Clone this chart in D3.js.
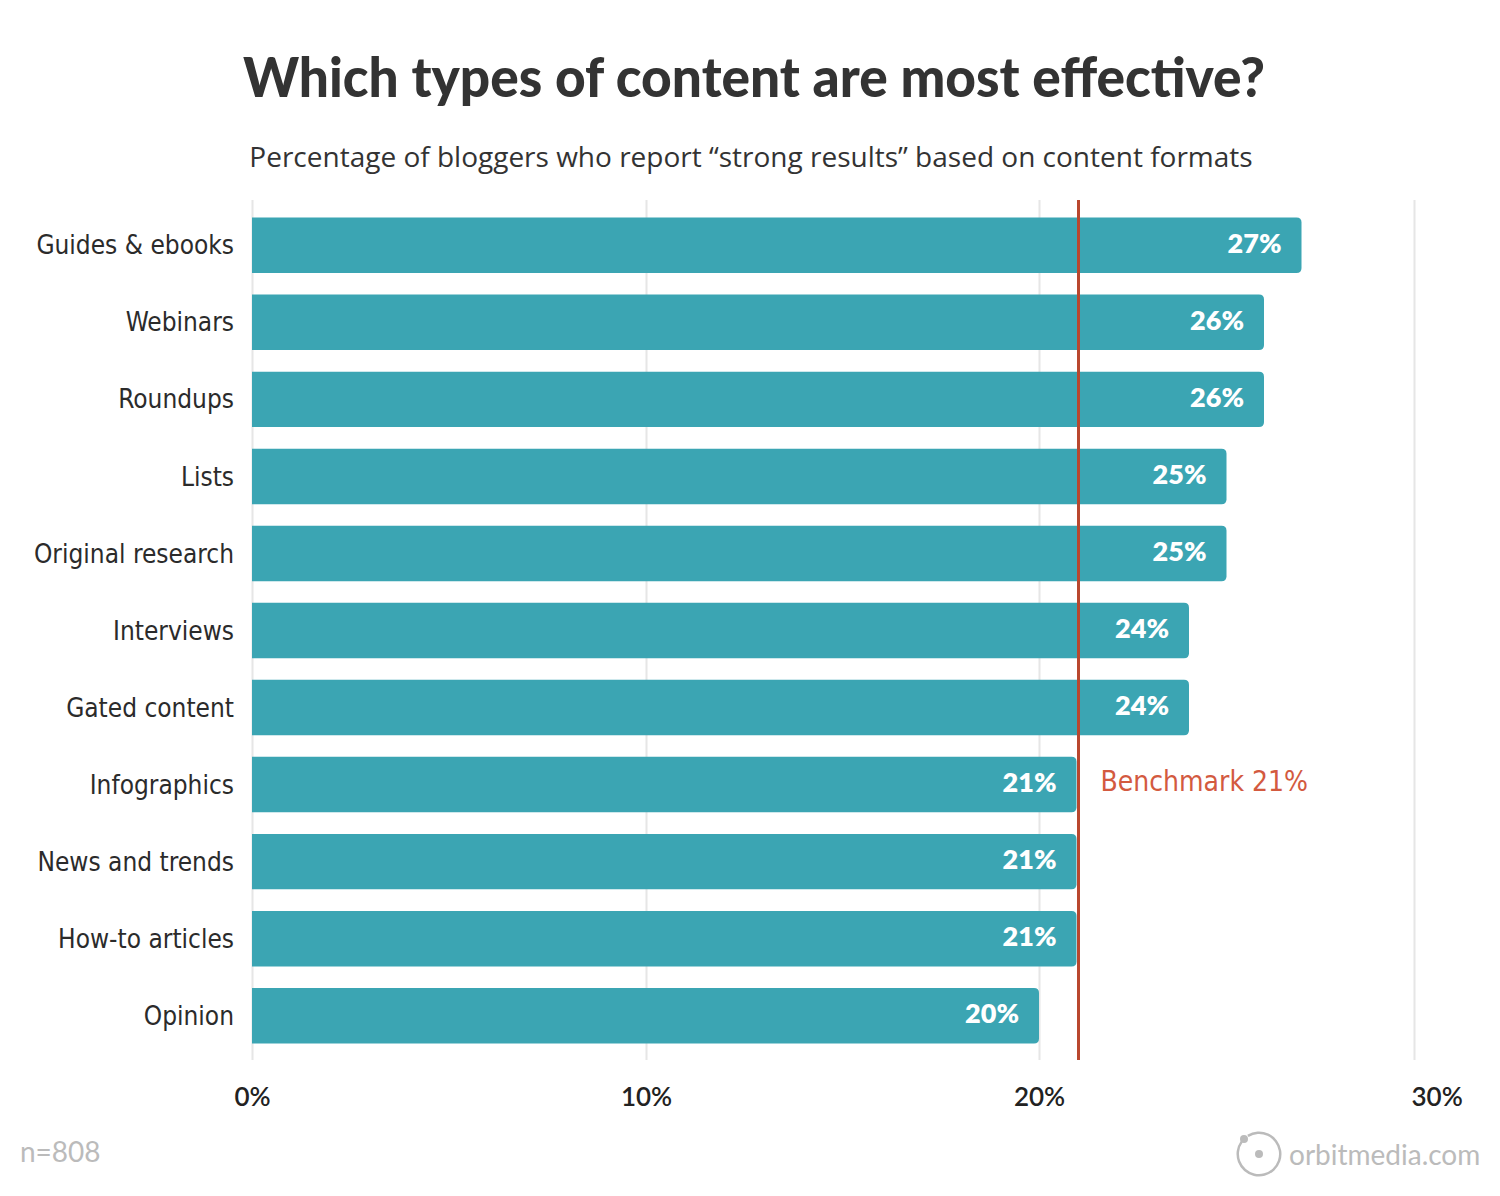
<!DOCTYPE html>
<html>
<head>
<meta charset="utf-8">
<script src="https://cdn.jsdelivr.net/npm/d3@7"></script>
<style>
  body { margin: 0; background: #fff; }
  svg text { font-family: Lato, "Open Sans", sans-serif; }
  .cat { font-family: "Liberation Sans Narrow", "DejaVu Sans Condensed", Roboto, sans-serif; }
</style>
</head>
<body>
<svg id="chart" width="1500" height="1196"></svg>
<script>
const categories = ['Guides & ebooks', 'Webinars', 'Roundups', 'Lists', 'Original research',
  'Interviews', 'Gated content', 'Infographics', 'News and trends', 'How-to articles', 'Opinion'];
const values = [27, 26, 26, 25, 25, 24, 24, 21, 21, 21, 20];
const benchmark = 21;
const xTicks = [0, 10, 20, 30];

const title = 'Which types of content are most effective?';
const subtitle = 'Percentage of bloggers who report \u201cstrong results\u201d based on content formats';

const data = categories.map((c, i) => ({ cat: c, v: values[i] }));

const svg = d3.select('#chart');
const plotTop = 200, plotBottom = 1060;

// the original's gridlines aren't evenly spaced, so a piecewise scale
const xScale = d3.scaleLinear()
  .domain(xTicks)
  .range([252, 646, 1039, 1414]);

const yScale = d3.scaleBand()
  .domain(categories)
  .range([196, 1065])
  .padding(0.28);

svg.append('text')
  .attr('x', 754).attr('y', 97)
  .attr('text-anchor', 'middle')
  .attr('textLength', 1022)
  .attr('lengthAdjust', 'spacingAndGlyphs')
  .style('font-size', '56px')
  .style('font-weight', 900)
  .style('fill', '#333')
  .text(title);

svg.append('text')
  .attr('x', 751).attr('y', 167)
  .attr('text-anchor', 'middle')
  .style('font-family', '"Open Sans", sans-serif')
  .style('font-size', '28px')
  .style('fill', '#333')
  .text(subtitle);

const xAxis = d3.axisBottom(xScale)
  .tickValues(xTicks)
  .tickFormat(d => d + '%')
  .tickSize(-(plotBottom - plotTop))
  .tickPadding(28);

const xAxisG = svg.append('g')
  .attr('transform', `translate(0,${plotBottom})`)
  .call(xAxis);
xAxisG.select('.domain').remove();
xAxisG.selectAll('.tick line')
  .attr('stroke', '#e6e6e6')
  .attr('stroke-width', 2);
xAxisG.selectAll('.tick text')
  .style('font-size', '26px')
  .style('font-family', 'Lato, sans-serif')
  .style('font-weight', 600)
  .style('fill', '#222')
  .attr('text-anchor', (d, i) => i === xTicks.length - 1 ? 'start' : 'middle')
  .attr('dx', (d, i) => i === xTicks.length - 1 ? -3 : 0);

const r = 5;
const barPath = d => {
  const x0 = xScale(0), x1 = xScale(d.v), y0 = yScale(d.cat), h = yScale.bandwidth();
  return `M${x0},${y0}H${x1 - r}Q${x1},${y0} ${x1},${y0 + r}V${y0 + h - r}Q${x1},${y0 + h} ${x1 - r},${y0 + h}H${x0}Z`;
};

svg.append('g').selectAll('path').data(data)
  .enter().append('path')
  .attr('d', barPath)
  .attr('fill', '#3ba5b3');

svg.append('g').selectAll('text').data(data)
  .enter().append('text')
  .attr('x', d => xScale(d.v) - 20)
  .attr('y', d => yScale(d.cat) + yScale.bandwidth() / 2 - 2)
  .attr('dy', '0.35em')
  .attr('text-anchor', 'end')
  .style('font-size', '27px')
  .style('font-weight', 800)
  .style('fill', '#fff')
  .text(d => d.v + '%');

svg.append('g').selectAll('text').data(data)
  .enter().append('text')
  .attr('class', 'cat')
  .attr('x', 234)
  .attr('y', d => yScale(d.cat) + yScale.bandwidth() / 2)
  .attr('dy', '0.35em')
  .attr('text-anchor', 'end')
  .style('font-size', '26px')
  .style('fill', '#2b2b2b')
  .text(d => d.cat);

svg.append('line')
  .attr('x1', xScale(benchmark) + 2).attr('x2', xScale(benchmark) + 2)
  .attr('y1', plotTop).attr('y2', plotBottom)
  .attr('stroke', '#b9472e')
  .attr('stroke-width', 3);

svg.append('text')
  .attr('x', xScale(benchmark) + 24)
  .attr('y', yScale('Infographics') + yScale.bandwidth() / 2 - 3)
  .attr('dy', '0.35em')
  .attr('class', 'cat')
  .style('font-size', '28px')
  .style('fill', '#d35a3f')
  .text('Benchmark ' + benchmark + '%');

svg.append('text')
  .attr('x', 20).attr('y', 1162)
  .style('font-size', '28px')
  .style('fill', '#bbb')
  .text('n=808');

// logo
const logo = svg.append('g').attr('transform', 'translate(1259,1154)');
logo.append('path')
  .attr('d', d3.arc()({ innerRadius: 20, outerRadius: 22.5, startAngle: -0.55, endAngle: 2 * Math.PI - 0.95 }))
  .attr('fill', '#bbb');
logo.append('circle').attr('cx', -15).attr('cy', -15).attr('r', 4).attr('fill', '#bbb');
logo.append('circle').attr('r', 4).attr('fill', '#bbb');
svg.append('text')
  .attr('x', 1289).attr('y', 1165)
  .style('font-size', '28px')
  .style('fill', '#bbb')
  .text('orbitmedia.com');
</script>
</body>
</html>
